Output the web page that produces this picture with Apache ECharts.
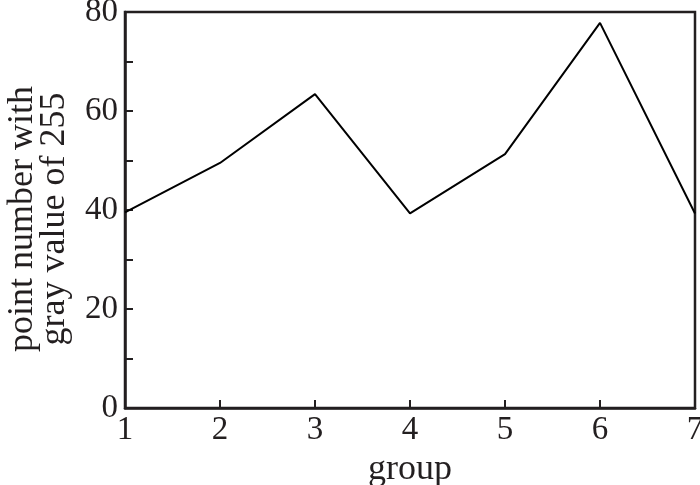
<!DOCTYPE html>
<html><head><meta charset="utf-8">
<script src="https://cdn.jsdelivr.net/npm/echarts@6/dist/echarts.min.js"></script>
<style>html,body{margin:0;padding:0;background:#fff}#c{width:700px;height:485px}</style>
</head><body><div id="c"></div>
<script>
const groups = [1, 2, 3, 4, 5, 6, 7];
const counts = [39.5, 49.5, 63.4, 39.3, 51.3, 77.8, 39.3];
const yTicks = [0, 20, 40, 60, 80];
const xName = 'group';
const yName = 'point number with\ngray value of 255';

const font = "'Liberation Serif', 'Times New Roman', Times, serif";
const ink = '#231f20';
const chart = echarts.init(document.getElementById('c'), null, {renderer: 'canvas'});
chart.setOption({
  animation: false,
  backgroundColor: '#fff',
  grid: {left: 125, right: 5, top: 12, bottom: 77, containLabel: false, outerBoundsMode: 'none',
         show: true, borderColor: ink, borderWidth: 2.5, backgroundColor: 'transparent'},
  xAxis: {
    type: 'value', min: groups[0], max: groups[groups.length - 1], interval: 1,
    name: xName, nameLocation: 'middle', nameGap: 36,
    nameTextStyle: {fontFamily: font, fontSize: 36, color: ink},
    axisLine: {show: true, lineStyle: {color: ink, width: 2.5}},
    axisTick: {show: true, inside: true, length: 8, lineStyle: {color: ink, width: 2}},
    axisLabel: {fontFamily: font, fontSize: 33, color: ink, margin: 6},
    splitLine: {show: false}
  },
  yAxis: {
    type: 'value', min: yTicks[0], max: yTicks[yTicks.length - 1], interval: 20,
    name: yName, nameLocation: 'middle', nameGap: 54,
    nameTextStyle: {fontFamily: font, fontSize: 36, color: ink, lineHeight: 32, padding: [0, 18, 0, 0]},
    axisLine: {show: true, lineStyle: {color: ink, width: 2.5}},
    axisTick: {show: true, inside: true, length: 8, lineStyle: {color: ink, width: 2}},
    minorTick: {show: true, splitNumber: 2, length: 8, lineStyle: {color: ink, width: 2}},
    axisLabel: {fontFamily: font, fontSize: 33, color: ink, margin: 7},
    splitLine: {show: false}
  },
  series: [{
    type: 'line',
    data: groups.map((g, i) => [g, counts[i]]),
    symbol: 'none',
    lineStyle: {color: '#000', width: 2},
    clip: false
  }]
});
</script></body></html>
